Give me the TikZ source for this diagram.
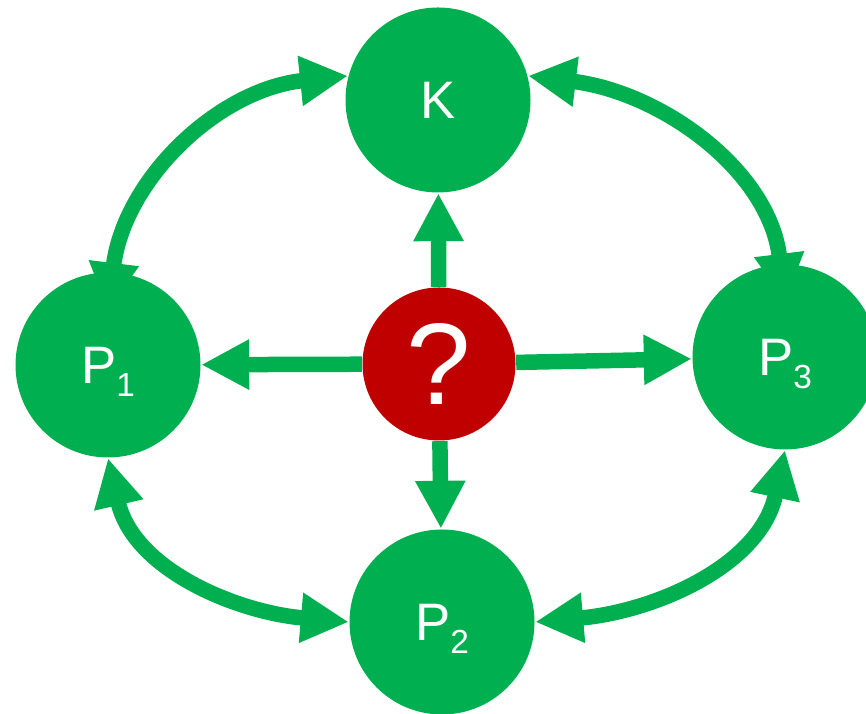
\documentclass[tikz,border=0pt]{standalone}
\usepackage{fontspec}
\setmainfont{Liberation Sans}
\usetikzlibrary{arrows.meta,backgrounds}
\definecolor{verde}{HTML}{00B050}
\definecolor{vermelho}{HTML}{C00000}
\begin{document}
\begin{tikzpicture}
\tikzstyle{bola}=[circle, minimum size=1.85cm, inner sep=0, fill=verde, text=white, text depth=0pt, font=\fontsize{15pt}{18pt}\selectfont]
\tikzstyle{duvida}=[circle, minimum size=1.53cm, inner sep=0, fill=vermelho, text=white, font=\fontsize{33pt}{36pt}\selectfont]
\tikzstyle{seta}=[verde, line width=1.55mm, -{Triangle[length=4.8mm, width=4.7mm]}]
\tikzstyle{setadupla}=[seta, {Triangle[length=4.8mm, width=4.7mm]}-{Triangle[length=4.8mm, width=4.7mm]}]
\useasboundingbox (0,0) rectangle (8.66,7.14);
\node[bola] (K) at(4.38,6.14){K};
\node[bola] (P1) at(1.08,3.49){P\raisebox{-3.7pt}{\fontsize{9.5pt}{11pt}\selectfont 1}};
\node[bola] (P2) at(4.42,0.92){P\raisebox{-3.7pt}{\fontsize{9.5pt}{11pt}\selectfont 2}};
\node[bola] (P3) at(7.85,3.57){P\raisebox{-3.7pt}{\fontsize{9.5pt}{11pt}\selectfont 3}};
\node[duvida] (Q) at(4.39,3.50){?};
\begin{scope}[on background layer]
\fill[white] (0,0) rectangle (8.66,7.14);
\draw[seta] (Q) -- (K);
\draw[seta] (Q) -- (P1);
\draw[seta] (Q) -- (P2);
\draw[seta] (Q) -- (P3);
\draw[setadupla] ([yshift=-3.9mm]P1.north) to[out=83, in=186] (K.165);
\draw[setadupla] (K.15) to[out=-7, in=97] ([yshift=-3.8mm]P3.north);
\draw[setadupla] (P1.south) to[out=-77, in=175] (P2.west);
\draw[setadupla] (P2.east) to[out=5, in=258] (P3.south);
\end{scope}
\end{tikzpicture}
\end{document}
